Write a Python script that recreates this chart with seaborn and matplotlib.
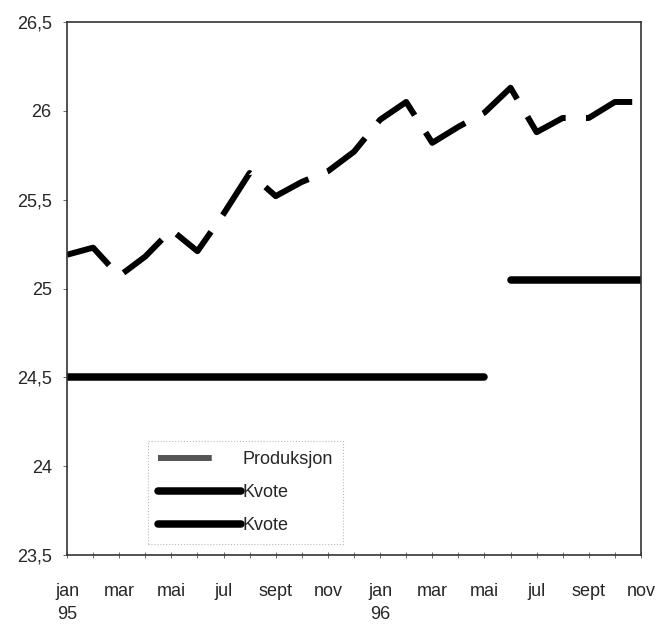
import matplotlib
matplotlib.use("Agg")
import numpy as np
import pandas as pd
import matplotlib.pyplot as plt
import seaborn as sns

# ---------- data ----------
months = ["jan", "feb", "mar", "apr", "mai", "jun", "jul", "aug", "sept", "okt", "nov", "des",
          "jan", "feb", "mar", "apr", "mai", "jun", "jul", "aug", "sept", "okt", "nov"]
tick_labels = ["jan\n95", "mar", "mai", "jul", "sept", "nov",
               "jan\n96", "mar", "mai", "jul", "sept", "nov"]
produksjon = [25.19, 25.23, 25.07, 25.18, 25.33, 25.21, 25.42, 25.65, 25.52, 25.60, 25.66, 25.77,
              25.95, 26.05, 25.82, 25.91, 25.99, 26.13, 25.88, 25.96, 25.96, 26.05, 26.05]
kvote_1 = [24.5] * 17   # jan 95 - mai 96
kvote_2 = [25.05] * 6   # jun 96 - nov 96
y_ticks = [23.5, 24, 24.5, 25, 25.5, 26, 26.5]


def main():
    sns.set_theme(style="white")
    plt.rcParams["font.family"] = ["Liberation Sans Narrow", "Liberation Sans", "DejaVu Sans"]

    idx = np.arange(len(months))
    df_prod = pd.DataFrame({"t": idx, "v": produksjon})
    df_k1 = pd.DataFrame({"t": idx[:len(kvote_1)], "v": kvote_1})
    df_k2 = pd.DataFrame({"t": idx[len(kvote_1):], "v": kvote_2})

    fig = plt.figure(figsize=(6.6, 6.24), dpi=100)
    ax = fig.add_axes([0.1015, 0.1106, 0.8697, 0.8541])

    sns.lineplot(data=df_prod, x="t", y="v", ax=ax, color="black", lw=4.3,
                 linestyle=(0, (8.5, 3.4)), dash_capstyle="butt", label="Produksjon")
    sns.lineplot(data=df_k1, x="t", y="v", ax=ax, color="black", lw=5.4,
                 solid_capstyle="round", label="Kvote")
    sns.lineplot(data=df_k2, x="t", y="v", ax=ax, color="black", lw=5.4,
                 solid_capstyle="round", label="Kvote")

    ax.set_xlim(0, 22)
    ax.set_ylim(23.5, 26.5)
    ax.set_xticks(idx[::2])
    ax.set_xticklabels(tick_labels, fontsize=13)
    for t in ax.get_xticklabels():
        t.set_linespacing(1.45)
    ax.set_xticks(idx, minor=True)
    ax.set_yticks(y_ticks)
    ax.set_yticklabels([f"{v:g}".replace(".", ",") for v in y_ticks], fontsize=13)
    ax.set_xlabel("")
    ax.set_ylabel("")
    ax.tick_params(axis="x", which="both", direction="inout", length=5, width=0.6,
                   color="#555555", pad=18, bottom=True)
    ax.tick_params(axis="y", direction="out", length=3, width=0.6, color="#555555",
                   pad=8, left=True)
    for s in ax.spines.values():
        s.set_color("#333333")
        s.set_linewidth(1.2)

    leg = ax.legend(loc="upper left", bbox_to_anchor=(0.224, 1 - 441 / 624),
                    bbox_transform=fig.transFigure, fontsize=13, frameon=True,
                    fancybox=False, handlelength=4.6, handletextpad=0.1,
                    labelspacing=0.9, borderpad=0.55, borderaxespad=0)
    frame = leg.get_frame()
    frame.set_edgecolor("#aaaaaa")
    frame.set_linestyle(":")
    frame.set_linewidth(0.8)
    # Produksjon handle: one short grey dash only
    h = leg.get_lines()[0]
    h.set_color("#555555")
    h.set_linestyle((0, (9.0, 20)))

    fig.savefig("out.png", dpi=100)


if __name__ == "__main__":
    main()
